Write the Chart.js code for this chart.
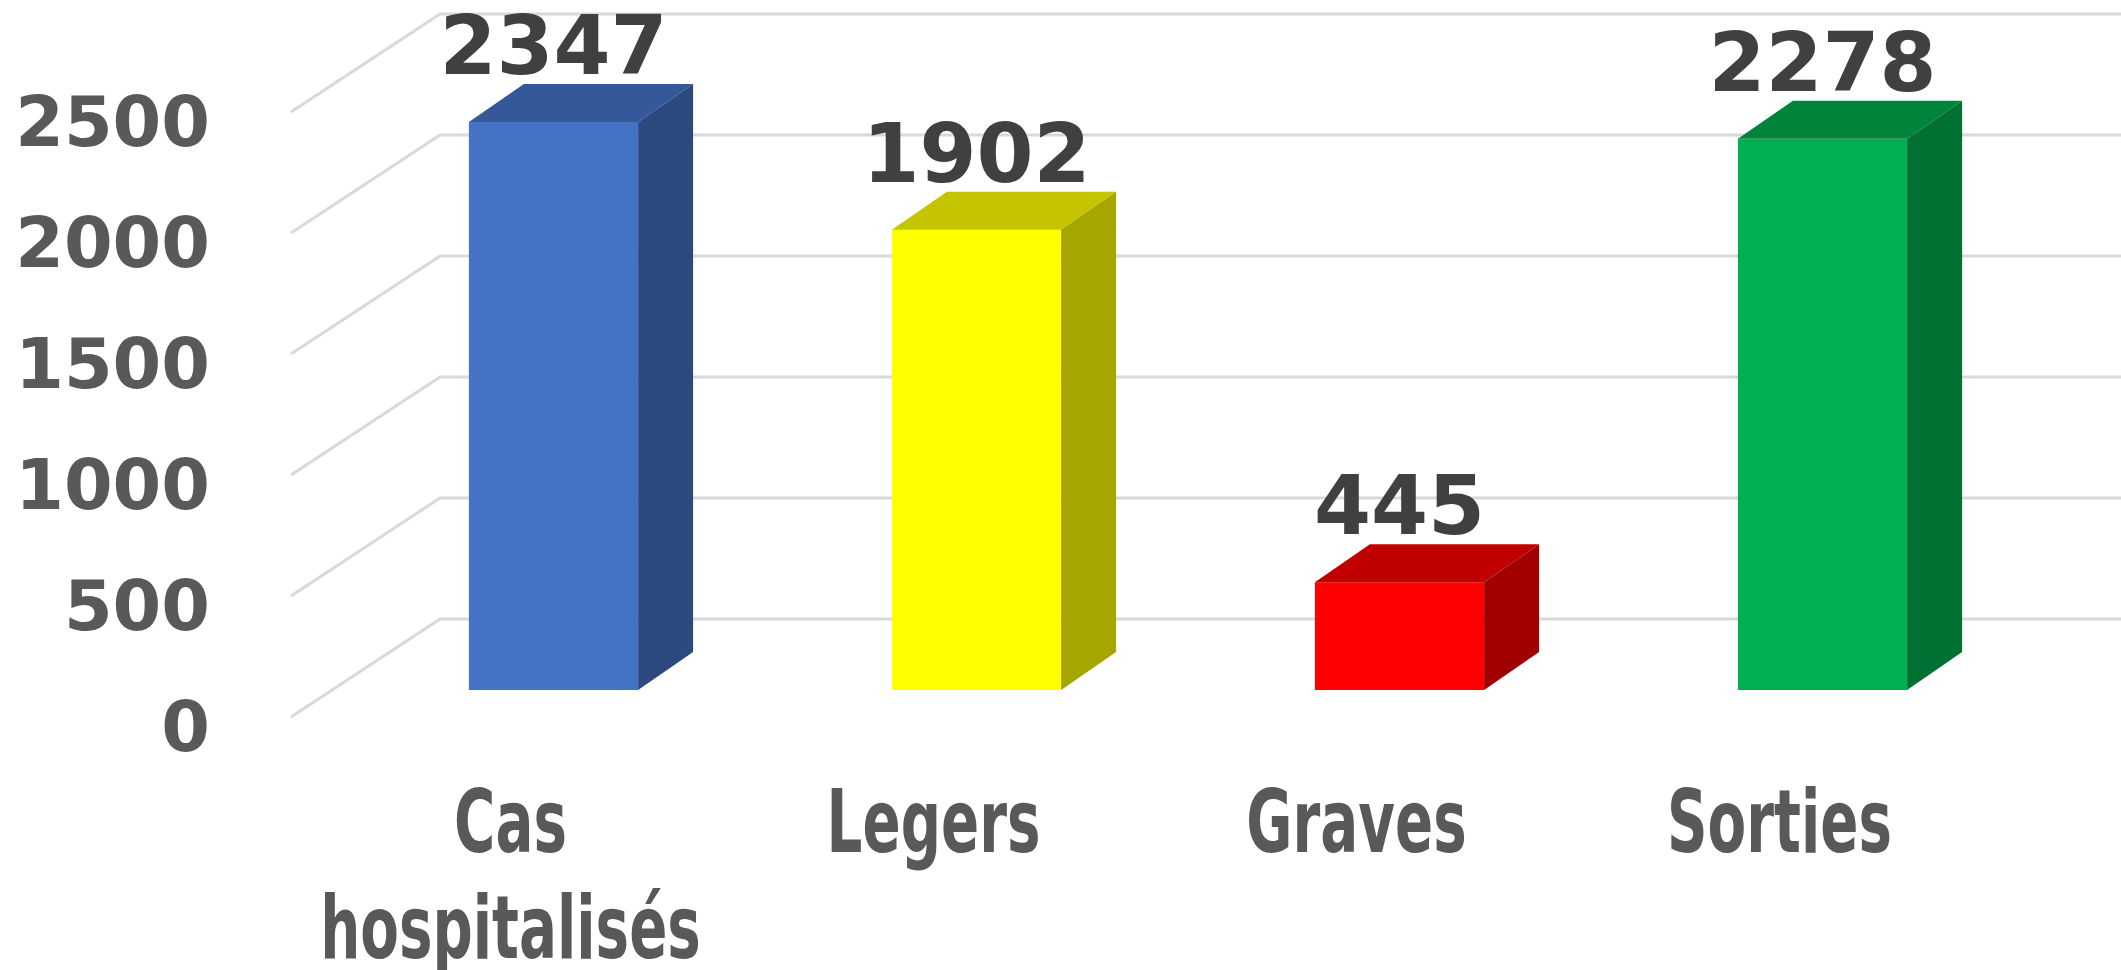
<!DOCTYPE html>
<html>
<head>
<meta charset="utf-8">
<script src="https://cdn.jsdelivr.net/npm/chart.js@4/dist/chart.umd.min.js"></script>
<style>
  html, body { margin: 0; padding: 0; background: #fff; }
  #wrap { width: 2121px; height: 970px; position: relative; }
</style>
</head>
<body>
<div id="wrap"><canvas id="graphique"></canvas></div>
<script>
// données
const categories = [['Cas', 'hospitalisés'], 'Legers', 'Graves', 'Sorties'];
const valeurs = [2347, 1902, 445, 2278];
const yTicks = [0, 500, 1000, 1500, 2000, 2500];

const couleursFace = ['#4472C4', '#FFFF00', '#FF0000', '#00B050'];
const couleursDessus = ['#34589A', '#C4C400', '#C00000', '#00843C'];
const couleursCote = ['#2C4A7E', '#A6A600', '#A00000', '#007033'];

// profondeur de la 3D (pixels)
const barDx = 55, barDy = -38;
const murDx = 149, murDy = -98;
const avantDx = -51, avantDy = 27;

const grille3D = {
  id: 'grille3D',
  beforeDatasetsDraw(chart) {
    const ctx = chart.ctx;
    const y = chart.scales.y;
    const area = chart.chartArea;
    ctx.save();
    ctx.strokeStyle = '#D9D9D9';
    ctx.lineWidth = 3;
    yTicks.forEach(v => {
      const py = y.getPixelForValue(v);
      const fx = area.left + avantDx, fy = py + avantDy;
      const bx = fx + murDx, by = fy + murDy;
      ctx.beginPath();
      ctx.moveTo(fx, fy);
      ctx.lineTo(bx, by);
      ctx.lineTo(chart.width, by);
      ctx.stroke();
    });
    ctx.restore();
  },
  afterDatasetsDraw(chart) {
    const ctx = chart.ctx;
    const meta = chart.getDatasetMeta(0);
    const x = chart.scales.x;
    ctx.save();
    meta.data.forEach((bar, i) => {
      const l = bar.x - bar.width / 2, r = bar.x + bar.width / 2;
      // dessus
      ctx.fillStyle = couleursDessus[i];
      ctx.beginPath();
      ctx.moveTo(l, bar.y);
      ctx.lineTo(r, bar.y);
      ctx.lineTo(r + barDx, bar.y + barDy);
      ctx.lineTo(l + barDx, bar.y + barDy);
      ctx.closePath();
      ctx.fill();
      // côté
      ctx.fillStyle = couleursCote[i];
      ctx.beginPath();
      ctx.moveTo(r, bar.y);
      ctx.lineTo(r + barDx, bar.y + barDy);
      ctx.lineTo(r + barDx, bar.base + barDy);
      ctx.lineTo(r, bar.base);
      ctx.closePath();
      ctx.fill();
      // étiquette de valeur
      ctx.fillStyle = '#404040';
      ctx.font = 'bold 82px "DejaVu Sans"';
      ctx.textAlign = 'center';
      ctx.textBaseline = 'alphabetic';
      ctx.fillText(String(valeurs[i]), bar.x, bar.y + barDy - 10);
    });

    // étiquettes des catégories (police étroite)
    ctx.fillStyle = '#595959';
    ctx.font = 'bold 88px "DejaVu Sans"';
    ctx.textAlign = 'center';
    ctx.textBaseline = 'middle';
    categories.forEach((cat, i) => {
      const lignes = Array.isArray(cat) ? cat : [cat];
      const cx = x.getPixelForValue(i) + avantDx + 8;
      lignes.forEach((txt, j) => {
        ctx.save();
        ctx.translate(cx, chart.chartArea.bottom + 139 + j * 106);
        ctx.scale(0.64, 1);
        ctx.fillText(txt, 0, 0);
        ctx.restore();
      });
    });
    ctx.restore();
  }
};

const ctx = document.getElementById('graphique').getContext('2d');
new Chart(ctx, {
  type: 'bar',
  data: {
    labels: categories,
    datasets: [{
      label: 'Cas',
      data: valeurs,
      backgroundColor: couleursFace,
      borderWidth: 0,
      barPercentage: 0.5,
      categoryPercentage: 0.8
    }]
  },
  options: {
    responsive: true,
    maintainAspectRatio: false,
    animation: false,
    layout: { padding: { top: 85, right: 87, left: 0, bottom: 280 } },
    plugins: {
      legend: { display: false },
      tooltip: { enabled: false }
    },
    scales: {
      x: {
        display: false
      },
      y: {
        min: 0,
        max: 2500,
        grid: { display: false, drawTicks: false },
        border: { display: false },
        ticks: {
          stepSize: 500,
          color: '#595959',
          font: { family: '"DejaVu Sans"', size: 70, weight: 'bold' },
          padding: 132,
          labelOffset: 43,
          callback: v => String(v)
        },
        afterFit(scale) {
          scale.width = 342;
          scale.paddingTop = 0;
          scale.paddingBottom = 0;
        }
      }
    }
  },
  plugins: [grille3D]
});
</script>
</body>
</html>
